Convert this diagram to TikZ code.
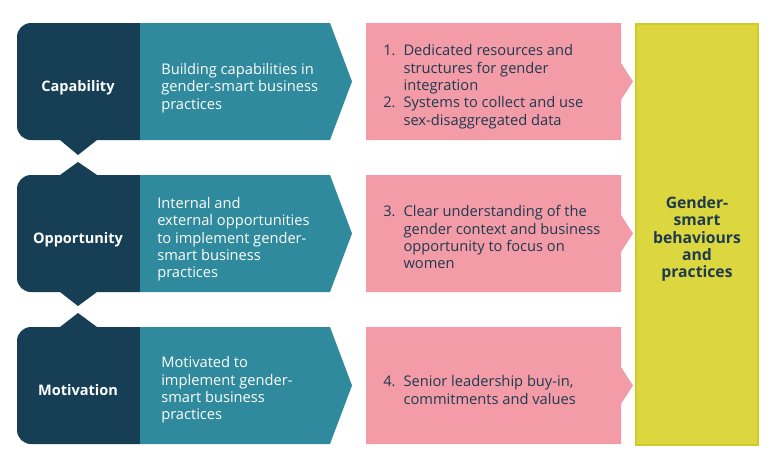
\documentclass[tikz,border=0pt]{standalone}
\usepackage{fontspec}
\setmainfont{Open Sans}
\definecolor{navyc}{HTML}{163F55}
\definecolor{tealc}{HTML}{2E8A9C}
\definecolor{pinkc}{HTML}{F39CA8}
\definecolor{yelc}{HTML}{DCD73F}
\definecolor{yelline}{HTML}{CFCB2A}
\definecolor{inkc}{HTML}{1E3A4F}
\begin{document}
\begin{tikzpicture}[x=0.75pt,y=-0.75pt,
  darkbox/.style={fill=navyc},
  tealarrow/.style={fill=tealc},
  pinkarrow/.style={fill=pinkc},
  goalbox/.style={fill=yelc,draw=yelline,line width=0.8pt},
  lbl/.style={font=\fontsize{10.9}{13}\selectfont\bfseries,text=white,inner sep=0pt},
  body/.style={font=\fontsize{11}{13}\selectfont,text=white,align=left,anchor=west,inner sep=0pt},
  listtxt/.style={font=\fontsize{11}{13}\selectfont,text=inkc,anchor=west,inner sep=0pt},
  goaltxt/.style={font=\fontsize{11.8}{12.9}\selectfont\bfseries,text=inkc,align=center,inner sep=0pt}]
\useasboundingbox (0,0) rectangle (775,469);
% row 1 (top 23, bottom 140)
\fill[darkbox] (140,23) -- (31,23) arc[start angle=270,end angle=180,radius=14]
  -- (17,126) arc[start angle=180,end angle=90,radius=14]
  -- (60,140) -- (78,155) -- (97,140) -- (140,140) -- cycle;
\fill[tealarrow] (140,23) -- (330,23) -- (352,81.5) -- (330,140) -- (140,140) -- cycle;
\fill[pinkarrow] (366,23) -- (621,23) -- (621,63) -- (633,81.5) -- (621,100) -- (621,140) -- (366,140) -- cycle;
% row 2 (top 175, bottom 292)
\fill[darkbox] (140,175) -- (97,175) -- (78,162) -- (60,175) -- (31,175) arc[start angle=270,end angle=180,radius=14]
  -- (17,278) arc[start angle=180,end angle=90,radius=14]
  -- (60,292) -- (78,306) -- (97,292) -- (140,292) -- cycle;
\fill[tealarrow] (140,175) -- (330,175) -- (352,233.5) -- (330,292) -- (140,292) -- cycle;
\fill[pinkarrow] (366,175) -- (621,175) -- (621,215) -- (633,233.5) -- (621,252) -- (621,292) -- (366,292) -- cycle;
% row 3 (top 327, bottom 444)
\fill[darkbox] (140,327) -- (97,327) -- (78,313) -- (60,327) -- (31,327) arc[start angle=270,end angle=180,radius=14]
  -- (17,430) arc[start angle=180,end angle=90,radius=14]
  -- (140,444) -- cycle;
\fill[tealarrow] (140,327) -- (330,327) -- (352,385.5) -- (330,444) -- (140,444) -- cycle;
\fill[pinkarrow] (366,327) -- (621,327) -- (621,367) -- (633,385.5) -- (621,404) -- (621,444) -- (366,444) -- cycle;
% goal box
\path[goalbox] (636,24) rectangle (758,445);
% texts
\node[lbl] (cap) at (78,88) {Capability};
\node[lbl] (opp) at (78,240) {Opportunity};
\node[lbl] (mot) at (78,390) {Motivation};
\node[body] (capt) at (161,88) {Building capabilities in\\gender-smart business\\practices};
\node[body] (oppt) at (157,239.5) {Internal and\\external opportunities\\to implement gender-\\smart business\\practices};
\node[body] (mott) at (161,390) {Motivated to\\implement gender-\\smart business\\practices};
\node[listtxt] (capl) at (383,87) {\begin{tabular}{@{}l@{\hspace{6pt}}l@{}}1. & Dedicated resources and\\ & structures for gender\\ & integration\\ 2. & Systems to collect and use\\ & sex-disaggregated data\end{tabular}};
\node[listtxt] (oppl) at (383,239.5) {\begin{tabular}{@{}l@{\hspace{6pt}}l@{}}3. & Clear understanding of the\\ & gender context and business\\ & opportunity to focus on\\ & women\end{tabular}};
\node[listtxt] (motl) at (383,392) {\begin{tabular}{@{}l@{\hspace{6pt}}l@{}}4. & Senior leadership buy-in,\\ & commitments and values\end{tabular}};
\node[goaltxt] (goal) at (697,239) {Gender-\\smart\\behaviours\\and\\practices};
\end{tikzpicture}
\end{document}
